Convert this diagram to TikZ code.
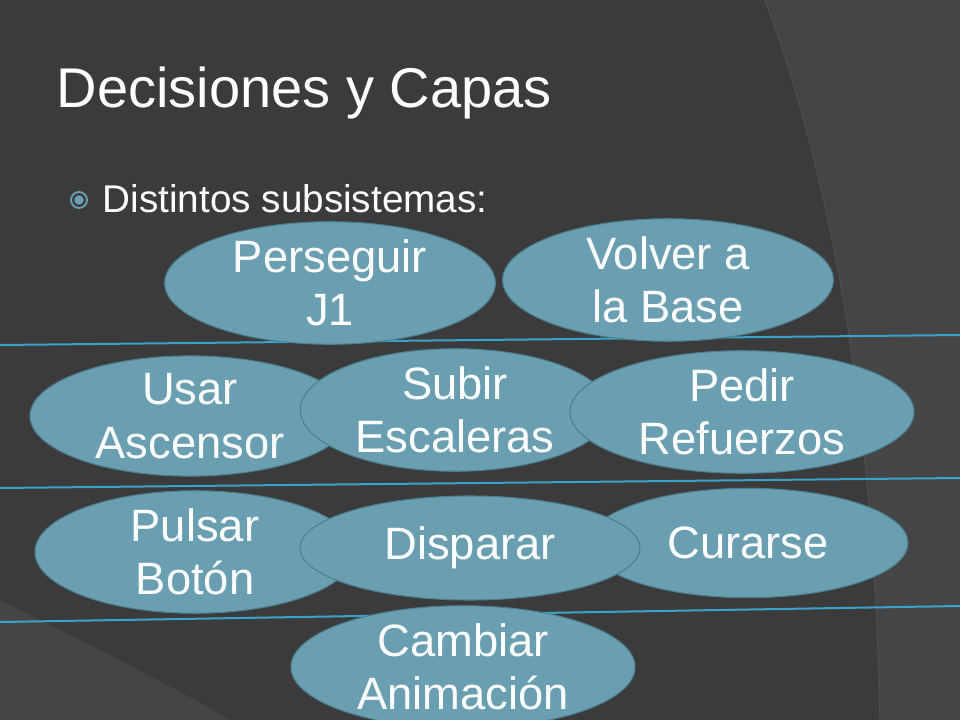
\documentclass[tikz,border=0pt]{standalone}
\usepackage{fontspec}
\setmainfont{Liberation Sans}
\usetikzlibrary{shapes.geometric}
\definecolor{slidebg}{HTML}{3B3B3B}
\definecolor{slidelight}{HTML}{454545}
\definecolor{ovalfill}{HTML}{6A9FB1}
\definecolor{ovaledge}{HTML}{4C7F90}
\definecolor{layerline}{HTML}{3AA2CA}
\tikzset{
  oval/.style={ellipse, fill=ovalfill, draw=ovaledge, line width=0.8pt, text=white,
    font=\fontsize{34}{40}\selectfont, align=center, inner sep=0pt},
  layer/.style={draw=layerline, line width=1.5pt}
}
\begin{document}
\begin{tikzpicture}[x=0.75pt,y=-0.75pt]
	\fill[slidebg] (0,0) rectangle (960,720);
	\useasboundingbox (0,0) rectangle (960,720);
	\fill[slidelight] (765,0) .. controls (840,200) and (875,450) .. (880,720) -- (960,720) -- (960,0) -- cycle;
	\draw[black!70, line width=1pt] (765,0) .. controls (840,200) and (875,450) .. (880,720);
	\fill[slidelight] (0,600) .. controls (100,650) and (180,690) .. (230,720) -- (0,720) -- cycle;

	\node[anchor=west, text=white, font=\fontsize{42}{46}\selectfont] (title) at (52,93) {Decisiones y Capas};
	\node[circle, draw=ovalfill, line width=1.4pt, minimum size=12pt, inner sep=0pt] (bul) at (79,200) {};
	\fill[ovalfill] (bul) circle (3.5pt);
	\node[anchor=west, text=white, font=\fontsize{29}{32}\selectfont] (sub) at (98,199) {Distintos subsistemas:};

	\coordinate (l1a) at (0,345); \coordinate (l1b) at (960,335);
	\coordinate (l2a) at (0,488); \coordinate (l2b) at (960,478);
	\coordinate (l3a) at (0,622); \coordinate (l3b) at (960,606);
	\draw[layer] (l1a) -- (l1b);
	\draw[layer] (l2a) -- (l2b);
	\draw[layer] (l3a) -- (l3b);

	\node[oval, minimum width=248pt, minimum height=72pt] (perseguir) at (330,283) {Perseguir\\J1};
	\node[oval, minimum width=248pt, minimum height=68pt] (volver) at (668,280) {Volver a\\la Base};
	\node[oval, minimum width=240pt, minimum height=82pt] (usar) at (190,416) {Usar\\Ascensor};
	\node[oval, minimum width=232pt, minimum height=86pt] (subir) at (455,410) {Subir\\Escaleras};
	\node[oval, minimum width=258pt, minimum height=86pt] (pedir) at (742,412) {Pedir\\Refuerzos};
	\node[oval, minimum width=240pt, minimum height=75pt] (pulsar) at (195,552) {Pulsar\\Botón};
	\node[oval, minimum width=240pt, minimum height=82pt] (curarse) at (748,543) {Curarse};
	\node[oval, minimum width=255pt, minimum height=78pt] (disparar) at (470,548) {Disparar};
	\node[oval, minimum width=258pt, minimum height=82pt] (cambiar) at (463,667) {Cambiar\\Animación};
\end{tikzpicture}
\end{document}
